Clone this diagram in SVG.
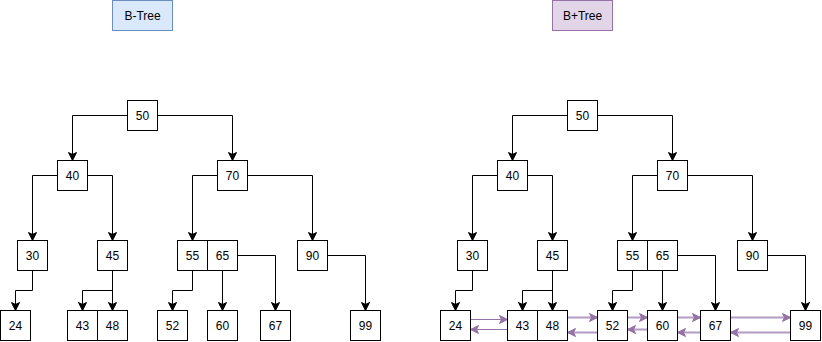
<svg xmlns="http://www.w3.org/2000/svg" width="822" height="342" viewBox="0 0 822 342">
<style>
.n rect{fill:#fff;stroke:#000;stroke-width:1}
text{font-family:"Liberation Sans",Arial,Helvetica,sans-serif;font-size:12px;fill:#000;text-anchor:middle;dominant-baseline:central}
.e path{fill:none;stroke:#000;stroke-width:1;marker-end:url(#ah)}
.p path{fill:none;stroke:#b39cc3;stroke-width:2;marker-end:url(#ph)}
.p path.thin{stroke:#9673a6;stroke-width:1}
</style>
<defs>
<marker id="ah" markerUnits="userSpaceOnUse" markerWidth="10" markerHeight="10" viewBox="0 0 10 10" refX="9" refY="5" orient="auto">
<path d="M1,1 L9,5 L1,9 L3,5 Z" fill="#000" stroke="#000" stroke-width="1"/>
</marker>
<marker id="ph" markerUnits="userSpaceOnUse" markerWidth="10" markerHeight="10" viewBox="0 0 10 10" refX="9" refY="5" orient="auto">
<path d="M1,1 L9,5 L1,9 L3,5 Z" fill="#9673a6" stroke="#9673a6" stroke-width="1"/>
</marker>
</defs>
<rect width="822" height="342" fill="#fff"/>
<g id="title-btree"><rect x="112.5" y="0.5" width="60" height="30" fill="#dae8fc" stroke="#6c8ebf"/><text x="142.5" y="15.5">B-Tree</text></g>
<g id="title-bplustree"><rect x="552.5" y="0.5" width="60" height="30" fill="#e1d5e7" stroke="#9673a6"/><text x="582.5" y="15.5">B+Tree</text></g>

<g id="connectors">
<g class="e">
<path d="M127.5 115.5H72.5V160.5"/>
<path d="M157.5 115.5H232.5V160.5"/>
<path d="M57.5 175.5H32.5V240.5"/>
<path d="M87.5 175.5H112.5V240.5"/>
<path d="M217.5 175.5H192.5V240.5"/>
<path d="M247.5 175.5H312.5V240.5"/>
<path d="M32.5 270.5V290.5H15.5V310.5"/>
<path d="M112.5 270.5V290.5H82.5V310.5"/>
<path d="M112.5 270.5V310.5"/>
<path d="M192.5 270.5V290.5H172.5V310.5"/>
<path d="M222.5 270.5V310.5"/>
<path d="M237.5 255.5H275.5V310.5"/>
<path d="M327.5 255.5H365.5V310.5"/>
</g>
<g class="e" transform="translate(440 0)">
<path d="M127.5 115.5H72.5V160.5"/>
<path d="M157.5 115.5H232.5V160.5"/>
<path d="M57.5 175.5H32.5V240.5"/>
<path d="M87.5 175.5H112.5V240.5"/>
<path d="M217.5 175.5H192.5V240.5"/>
<path d="M247.5 175.5H312.5V240.5"/>
<path d="M32.5 270.5V290.5H15.5V310.5"/>
<path d="M112.5 270.5V290.5H82.5V310.5"/>
<path d="M112.5 270.5V310.5"/>
<path d="M192.5 270.5V290.5H172.5V310.5"/>
<path d="M222.5 270.5V310.5"/>
<path d="M237.5 255.5H275.5V310.5"/>
<path d="M327.5 255.5H365.5V310.5"/>
</g>
<g class="p">
<path class="thin" d="M470.5 319.5H507.5"/>
<path class="thin" d="M507.5 329.5H470.5"/>
<path d="M567.5 317.5H597.5"/>
<path d="M597.5 332.5H567.5"/>
<path d="M627.5 317.5H647.5"/>
<path d="M647.5 329.5H627.5"/>
<path d="M677.5 317.5H700.5"/>
<path d="M700.5 332.5H677.5"/>
<path d="M730.5 317.5H790.5"/>
<path d="M790.5 332.5H730.5"/>
</g>
</g>

<g id="btree">
<g id="b50" class="n"><rect x="127.5" y="100.5" width="30" height="30"/><text x="142.5" y="115.5">50</text></g>
<g id="b40" class="n"><rect x="57.5" y="160.5" width="30" height="30"/><text x="72.5" y="175.5">40</text></g>
<g id="b70" class="n"><rect x="217.5" y="160.5" width="30" height="30"/><text x="232.5" y="175.5">70</text></g>
<g id="b30" class="n"><rect x="17.5" y="240.5" width="30" height="30"/><text x="32.5" y="255.5">30</text></g>
<g id="b45" class="n"><rect x="97.5" y="240.5" width="30" height="30"/><text x="112.5" y="255.5">45</text></g>
<g id="b55" class="n"><rect x="177.5" y="240.5" width="30" height="30"/><text x="192.5" y="255.5">55</text></g>
<g id="b65" class="n"><rect x="207.5" y="240.5" width="30" height="30"/><text x="222.5" y="255.5">65</text></g>
<g id="b90" class="n"><rect x="297.5" y="240.5" width="30" height="30"/><text x="312.5" y="255.5">90</text></g>
<g id="b24" class="n"><rect x="0.5" y="310.5" width="30" height="30"/><text x="15.5" y="325.5">24</text></g>
<g id="b43" class="n"><rect x="67.5" y="310.5" width="30" height="30"/><text x="82.5" y="325.5">43</text></g>
<g id="b48" class="n"><rect x="97.5" y="310.5" width="30" height="30"/><text x="112.5" y="325.5">48</text></g>
<g id="b52" class="n"><rect x="157.5" y="310.5" width="30" height="30"/><text x="172.5" y="325.5">52</text></g>
<g id="b60" class="n"><rect x="207.5" y="310.5" width="30" height="30"/><text x="222.5" y="325.5">60</text></g>
<g id="b67" class="n"><rect x="260.5" y="310.5" width="30" height="30"/><text x="275.5" y="325.5">67</text></g>
<g id="b99" class="n"><rect x="350.5" y="310.5" width="30" height="30"/><text x="365.5" y="325.5">99</text></g>
</g>

<g id="bplustree" transform="translate(440 0)">
<g id="p50" class="n"><rect x="127.5" y="100.5" width="30" height="30"/><text x="142.5" y="115.5">50</text></g>
<g id="p40" class="n"><rect x="57.5" y="160.5" width="30" height="30"/><text x="72.5" y="175.5">40</text></g>
<g id="p70" class="n"><rect x="217.5" y="160.5" width="30" height="30"/><text x="232.5" y="175.5">70</text></g>
<g id="p30" class="n"><rect x="17.5" y="240.5" width="30" height="30"/><text x="32.5" y="255.5">30</text></g>
<g id="p45" class="n"><rect x="97.5" y="240.5" width="30" height="30"/><text x="112.5" y="255.5">45</text></g>
<g id="p55" class="n"><rect x="177.5" y="240.5" width="30" height="30"/><text x="192.5" y="255.5">55</text></g>
<g id="p65" class="n"><rect x="207.5" y="240.5" width="30" height="30"/><text x="222.5" y="255.5">65</text></g>
<g id="p90" class="n"><rect x="297.5" y="240.5" width="30" height="30"/><text x="312.5" y="255.5">90</text></g>
<g id="p24" class="n"><rect x="0.5" y="310.5" width="30" height="30"/><text x="15.5" y="325.5">24</text></g>
<g id="p43" class="n"><rect x="67.5" y="310.5" width="30" height="30"/><text x="82.5" y="325.5">43</text></g>
<g id="p48" class="n"><rect x="97.5" y="310.5" width="30" height="30"/><text x="112.5" y="325.5">48</text></g>
<g id="p52" class="n"><rect x="157.5" y="310.5" width="30" height="30"/><text x="172.5" y="325.5">52</text></g>
<g id="p60" class="n"><rect x="207.5" y="310.5" width="30" height="30"/><text x="222.5" y="325.5">60</text></g>
<g id="p67" class="n"><rect x="260.5" y="310.5" width="30" height="30"/><text x="275.5" y="325.5">67</text></g>
<g id="p99" class="n"><rect x="350.5" y="310.5" width="30" height="30"/><text x="365.5" y="325.5">99</text></g>
</g>
</svg>
